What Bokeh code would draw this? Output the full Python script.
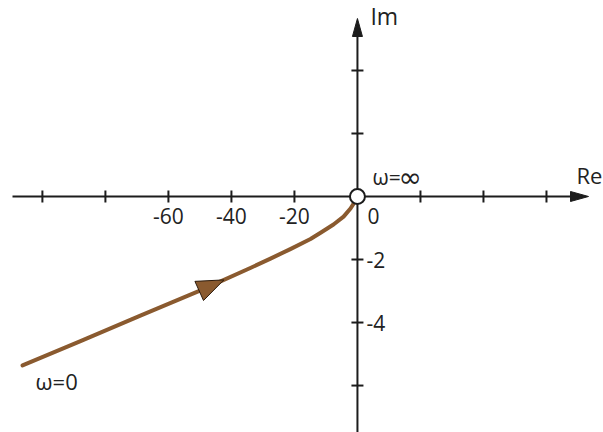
import numpy as np
from bokeh.plotting import figure
from bokeh.models import Label, Range1d
from bokeh.embed import file_html
from bokeh.resources import INLINE

# Nyquist locus G(jw): real and imaginary parts, from w=0 to w=inf
re_vals = [-106.3, -87.9, -68.9, -49.8, -34.0, -27.6, -21.3, -14.9, -11.7, -7.6, -4.4, -2.2, -0.6, 0.0]
im_vals = [-5.36, -4.59, -3.78, -2.98, -2.27, -1.97, -1.67, -1.35, -1.15, -0.89, -0.64, -0.38, -0.13, 0.0]

# axis ticks and labels
re_ticks = [-100, -80, -60, -40, -20, 20, 40, 60]
im_ticks = [4, 2, -2, -4, -6]
re_labels = {-60: "-60", -40: "-40", -20: "-20"}
im_labels = {-2: "-2", -4: "-4"}

W, H = 603, 432
X0, X1 = -113.3, 78.1
Y0, Y1 = -7.49, 6.22
sx = W / (X1 - X0)   # px per Re unit
sy = H / (Y1 - Y0)   # px per Im unit

AX = "#1c1c1c"
CURVE = "#8a5a2f"
FONT = "Open Sans"
FS = "21px"

p = figure(width=W, height=H, output_backend="svg", toolbar_location=None,
           x_range=Range1d(X0, X1), y_range=Range1d(Y0, Y1),
           min_border=0, min_border_left=0, min_border_right=0,
           min_border_top=0, min_border_bottom=0)
p.axis.visible = False
p.grid.visible = False
p.outline_line_color = None
p.background_fill_color = "white"

# axes lines
re_end = X0 + 588 / sx
im_end = Y1 - 18 / sy
p.line([X0 + 12 / sx, re_end - 12 / sx], [0, 0], line_color=AX, line_width=2)
p.line([0, 0], [Y0, im_end - 12 / sy], line_color=AX, line_width=2)

# arrowheads on the axes
hl, hw = 18, 5
p.patch([re_end, re_end - hl / sx, re_end - hl / sx], [0, hw / sy, -hw / sy],
        fill_color=AX, line_color=AX)
p.patch([0, -hw / sx, hw / sx], [im_end, im_end - hl / sy, im_end - hl / sy],
        fill_color=AX, line_color=AX)

# tick marks
tk = 6
p.segment(x0=re_ticks, y0=[-tk / sy] * len(re_ticks), x1=re_ticks, y1=[tk / sy] * len(re_ticks),
          line_color=AX, line_width=2)
p.segment(x0=[-tk / sx] * len(im_ticks), y0=im_ticks, x1=[tk / sx] * len(im_ticks), y1=im_ticks,
          line_color=AX, line_width=2)

# locus
p.line(re_vals, im_vals, line_color=CURVE, line_width=4, line_cap="round", line_join="round")

# direction arrow on the locus (triangle aligned with the local tangent, in screen px)
tip_x = -42.4
tip_y = float(np.interp(tip_x, re_vals, im_vals))
back_y = float(np.interp(tip_x - 8, re_vals, im_vals))
dx, dy = 8 * sx, (tip_y - back_y) * sy
n = np.hypot(dx, dy)
ux, uy = dx / n, dy / n
L, hwid = 27, 10.5
bx, by = -ux * L, -uy * L
ax_px = [0, bx - uy * hwid, bx + uy * hwid]
ay_px = [0, by + ux * hwid, by - ux * hwid]
p.patch([tip_x + a / sx for a in ax_px], [tip_y + b / sy for b in ay_px],
        fill_color=CURVE, line_color="#2b1a0c", line_width=1)

# origin marker (w = inf)
p.scatter([0], [0], size=15, marker="circle", fill_color="white", line_color=AX, line_width=2)

def lab(text, x, y, xo=0, yo=0, align="left", base="middle", font=FONT, fs=FS):
    p.add_layout(Label(x=x, y=y, x_offset=xo, y_offset=yo, text=text, text_font=font,
                       text_font_size=fs, text_color="#222222", text_align=align,
                       text_baseline=base))

for v, t in re_labels.items():
    lab(t, v, 0, 0, -12, "center", "top")
lab("0", 0, 0, 10, -12, "left", "top")
for v, t in im_labels.items():
    lab(t, 0, v, 9, 0, "left", "middle")
lab("Im", 0, im_end, 13, 3, "left", "middle", fs="23px")
lab("Re", X0 + 576 / sx, 0, 0, 21, "left", "middle", fs="22px")
lab("ω=", 0, 0, 15, 19, "left", "middle", fs="21px")
lab("∞", 0, 0, 41, 19, "left", "middle", font="DejaVu Sans", fs="28px")
lab("ω=0", re_vals[0], im_vals[0], 13, -16, "left", "middle", fs="22px")

open("out.html", "w").write(file_html(p, INLINE))
